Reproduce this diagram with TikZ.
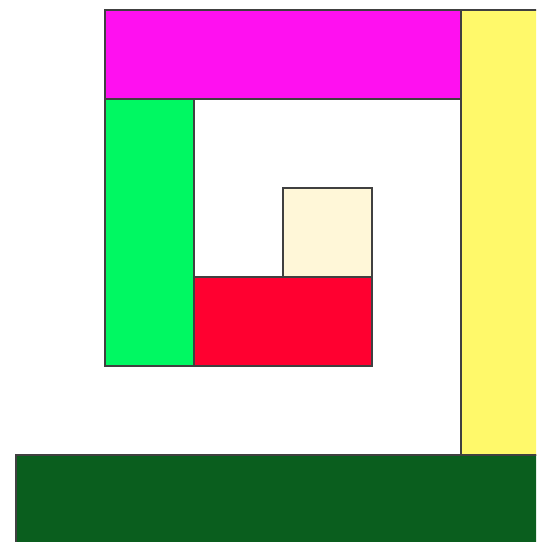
\documentclass[tikz,border=0pt]{standalone}
\usetikzlibrary{positioning}
\definecolor{tilemagenta}{HTML}{FF10F0}
\definecolor{tileyellow}{HTML}{FFF96A}
\definecolor{tilegreen}{HTML}{00F862}
\definecolor{tilecream}{HTML}{FFF7D8}
\definecolor{tilered}{HTML}{FF0030}
\definecolor{tiledark}{HTML}{0A5E1E}
\begin{document}
\begin{tikzpicture}[
    x=0.89cm, y=-0.89cm,
    tile/.style={draw=black!75, fill=#1, line width=0.6pt}
]
    % picture frame, tiles run off the right and bottom edges
    \useasboundingbox (-0.18,-0.112) rectangle (5.843,5.978);
    \clip (-0.18,-0.112) rectangle (5.843,5.978);

    % spiral of tiles, smallest first
    \filldraw[tile=tilecream] (3,2) rectangle (4,3);
    \filldraw[tile=tilered] (2,3) rectangle (4,4);
    \filldraw[tile=tilegreen] (1,1) rectangle (2,4);
    \filldraw[tile=tilemagenta] (1,0) rectangle (5,1);
    \filldraw[tile=tileyellow] (5,0) rectangle (6,5);
    \filldraw[tile=tiledark] (0,5) rectangle (6,6);

\end{tikzpicture}
\end{document}
